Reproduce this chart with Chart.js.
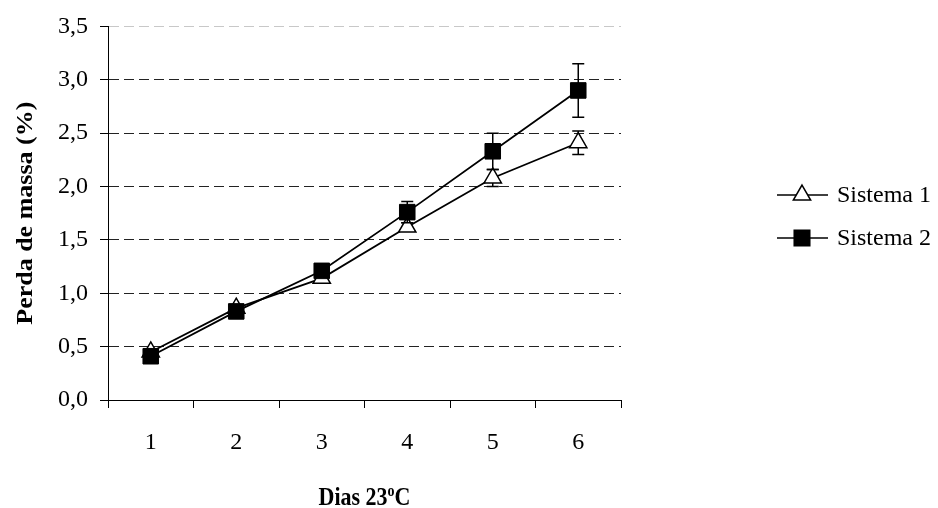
<!DOCTYPE html>
<html>
<head>
<meta charset="utf-8">
<script src="https://cdn.jsdelivr.net/npm/chart.js@4/dist/chart.umd.min.js"></script>
<style>
  html, body { margin: 0; background: #fff; }
  canvas { display: block; }
</style>
</head>
<body>
<canvas id="chart" width="938" height="508"></canvas>
<script>
const days = ["1", "2", "3", "4", "5", "6"];
const sistema1 = [0.45, 0.86, 1.14, 1.62, 2.08, 2.41];
const sistema1Err = [0.02, 0.02, 0.03, 0.04, 0.08, 0.11];
const sistema2 = [0.41, 0.83, 1.21, 1.76, 2.33, 2.90];
const sistema2Err = [0.02, 0.03, 0.03, 0.10, 0.17, 0.25];
const yTickValues = [0, 0.5, 1.0, 1.5, 2.0, 2.5, 3.0, 3.5];
const seriesNames = ["Sistema 1", "Sistema 2"];

const SERIF = "'Liberation Serif', 'Times New Roman', serif";

// vertical error bars with caps, drawn just under each series
const errorBars = {
  id: "errorBars",
  beforeDatasetDraw(chart, args) {
    const ds = chart.data.datasets[args.index];
    if (!ds.errors) return;
    const y = chart.scales.y;
    const ctx = chart.ctx;
    ctx.save();
    ctx.strokeStyle = "#000";
    ctx.lineWidth = 1.5;
    args.meta.data.forEach((pt, i) => {
      const v = ds.data[i];
      const e = ds.errors[i];
      const top = y.getPixelForValue(v + e);
      const bot = y.getPixelForValue(v - e);
      ctx.beginPath();
      ctx.moveTo(pt.x, top);
      ctx.lineTo(pt.x, bot);
      ctx.moveTo(pt.x - 6, top);
      ctx.lineTo(pt.x + 6, top);
      ctx.moveTo(pt.x - 6, bot);
      ctx.lineTo(pt.x + 6, bot);
      ctx.stroke();
    });
    ctx.restore();
  }
};

// axis titles (slightly tall serif) and the line+marker legend on the right
const decorations = {
  id: "decorations",
  afterDraw(chart) {
    const ctx = chart.ctx;
    const area = chart.chartArea;
    ctx.save();
    ctx.fillStyle = "#000";

    // y title
    ctx.save();
    ctx.translate(26, (area.top + area.bottom) / 2);
    ctx.rotate(-Math.PI / 2);
    ctx.scale(1.13, 1);
    ctx.font = "bold 23px " + SERIF;
    ctx.textAlign = "center";
    ctx.textBaseline = "middle";
    ctx.fillText("Perda de massa (%)", 0, 0);
    ctx.restore();

    // x title with superscript o
    const main = "Dias 23";
    const sup = "o";
    const tail = "C";
    ctx.save();
    ctx.translate(0, 505);
    ctx.scale(1, 1.15);
    ctx.textBaseline = "alphabetic";
    ctx.font = "bold 22px " + SERIF;
    const wMain = ctx.measureText(main).width;
    const wTail = ctx.measureText(tail).width;
    ctx.font = "bold 14px " + SERIF;
    const wSup = ctx.measureText(sup).width;
    let x = (area.left + area.right) / 2 - (wMain + wSup + wTail) / 2;
    ctx.textAlign = "left";
    ctx.font = "bold 22px " + SERIF;
    ctx.fillText(main, x, 0);
    x += wMain;
    ctx.font = "bold 14px " + SERIF;
    ctx.fillText(sup, x, -8);
    x += wSup;
    ctx.font = "bold 22px " + SERIF;
    ctx.fillText(tail, x, 0);
    ctx.restore();

    // legend
    ctx.font = "24px " + SERIF;
    ctx.textBaseline = "middle";
    ctx.textAlign = "left";
    chart.data.datasets.forEach((ds, i) => {
      const ly = 195 + i * 43;
      ctx.strokeStyle = "#000";
      ctx.lineWidth = 1.5;
      ctx.beginPath();
      ctx.moveTo(777, ly);
      ctx.lineTo(828, ly);
      ctx.stroke();
      ctx.fillStyle = ds.pointBackgroundColor;
      Chart.helpers.drawPoint(ctx, {
        pointStyle: ds.pointStyle,
        radius: ds.pointRadius,
        rotation: 0,
        borderWidth: 1.5
      }, 802, ly);
      ctx.fillStyle = "#000";
      ctx.fillText(ds.label, 837, ly + 1);
    });
    ctx.restore();
  }
};

new Chart(document.getElementById("chart"), {
  type: "line",
  data: {
    labels: days,
    datasets: [
      {
        label: seriesNames[0],
        data: sistema1,
        errors: sistema1Err,
        order: 2,
        borderColor: "#000",
        borderWidth: 1.8,
        pointStyle: "triangle",
        pointRadius: 10,
        pointBackgroundColor: "#fff",
        pointBorderColor: "#000",
        pointBorderWidth: 1.5,
        tension: 0
      },
      {
        label: seriesNames[1],
        data: sistema2,
        errors: sistema2Err,
        order: 1,
        borderColor: "#000",
        borderWidth: 1.8,
        pointStyle: "rect",
        pointRadius: 11,
        pointBackgroundColor: "#000",
        pointBorderColor: "#000",
        pointBorderWidth: 1,
        tension: 0
      }
    ]
  },
  options: {
    responsive: false,
    animation: false,
    events: [],
    layout: { padding: { top: 25, right: 317, left: 0, bottom: 0 } },
    plugins: {
      legend: { display: false },
      tooltip: { enabled: false }
    },
    scales: {
      x: {
        offset: true,
        afterFit(scale) { scale.height = 108; },
        grid: {
          offset: true,
          drawOnChartArea: false,
          drawTicks: true,
          tickLength: 8,
          tickColor: "#000",
          tickWidth: 1
        },
        border: { color: "#000", width: 1 },
        ticks: {
          color: "#000",
          font: { family: SERIF, size: 24 },
          padding: 20,
          maxRotation: 0
        }
      },
      y: {
        min: 0,
        max: 3.5,
        afterFit(scale) { scale.width = 108; },
        afterBuildTicks(scale) { scale.ticks = yTickValues.map(v => ({ value: v })); },
        grid: {
          color: ctx => (ctx.tick && ctx.tick.value === 3.5 ? "#c8c8c8" : "#222"),
          lineWidth: 1,
          tickLength: 8,
          tickColor: "#000",
          tickBorderDash: []
        },
        border: { color: "#000", width: 1, dash: [10, 5] },
        ticks: {
          color: "#000",
          font: { family: SERIF, size: 24 },
          padding: 12,
          callback: v => v.toFixed(1).replace(".", ",")
        }
      }
    }
  },
  plugins: [errorBars, decorations]
});
</script>
</body>
</html>
